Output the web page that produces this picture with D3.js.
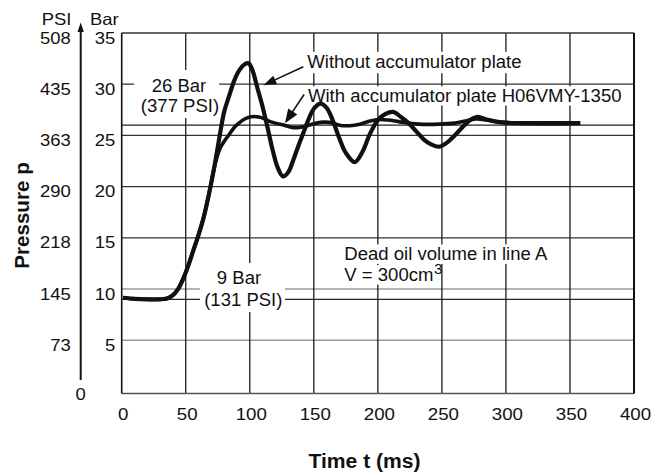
<!DOCTYPE html>
<html><head><meta charset="utf-8">
<script src="https://cdn.jsdelivr.net/npm/d3@7"></script>
<style>body{margin:0;background:#fff}</style>
</head><body>
<svg id="c" width="662" height="475"></svg>
<script>
// ---- data ----
const timeTicks = [0, 50, 100, 150, 200, 250, 300, 350, 400];
const barTicks = [5, 10, 15, 20, 25, 30, 35];
const psiTickLabels = ["73", "145", "218", "290", "363", "435", "508"];
const psiZeroLabel = "0";
const refBars = [9, 26];

const tWithout = [1,10,20,30,36,40,44,48,52,56,60,64,68,72,76,80,84,88,92,96,99,102,106,110,114,118,122,126,130,134,138,142,146,150,155,160,165,170,175,182,188,194,200,206,212,218,224,230,236,242,248,254,260,266,272,277,285,295,310,330,358];
const pWithout = [9.15,9.05,9.0,9.0,9.1,9.4,10.0,11.0,12.3,13.8,15.3,17.0,19.2,21.7,24.6,27.3,28.9,30.4,31.4,31.95,32.05,31.4,29.6,27.8,25.7,23.5,21.8,21.0,21.4,22.6,24.0,25.3,26.6,27.6,28.1,27.7,26.4,24.7,23.3,22.4,23.4,25.2,26.5,27.1,27.3,26.8,26.2,25.4,24.6,24.1,23.9,24.3,25.0,25.8,26.5,26.8,26.55,26.3,26.2,26.2,26.2];

const tWith = [1,10,20,30,36,40,44,48,52,56,60,64,68,72,74,77,81,84,88,92,96,100,103,107,111,114,120,127,134,140,146,152,158,164,170,178,186,194,201,208,216,224,232,248,260,270,277,285,295,310,330,358];
const pWith = [9.15,9.05,9.0,9.0,9.1,9.4,10.0,11.0,12.3,13.8,15.3,17.0,19.2,21.7,22.7,23.8,24.6,25.1,25.8,26.25,26.6,26.8,26.85,26.8,26.65,26.45,26.2,26.0,25.75,25.8,26.0,26.2,26.3,26.25,26.0,25.95,26.1,26.4,26.55,26.5,26.35,26.2,26.1,26.1,26.2,26.45,26.6,26.5,26.3,26.2,26.15,26.2];

// ---- layout ----
const FONT = '"Liberation Sans", Arial, Helvetica, sans-serif';
const svg = d3.select("#c");
const x = d3.scaleLinear().domain([0, 400]).range([121.7, 634]);
const y = d3.scaleLinear().domain([0, 35]).range([391.5, 33]);
const yBottom = y(0) + 2;

const gGrid = svg.append("g");
const gMask = svg.append("g");
const gCurves = svg.append("g");
const gArrows = svg.append("g");
const gText = svg.append("g");

function label(g, px, py, str, o = {}) {
  const size = o.size || 17.5, sx = o.sx || 1.06, rot = o.rotate || 0;
  const t = g.append("text")
    .attr("transform", `translate(${px},${py}) rotate(${rot}) scale(${sx},1)`)
    .attr("font-family", FONT)
    .attr("font-size", size)
    .attr("font-weight", o.weight || "normal")
    .attr("text-anchor", o.anchor || "start")
    .attr("fill", "#111")
    .text(str);
  return t;
}
function maskFor(t, px, py, sx, pad) {
  const b = t.node().getBBox();
  gMask.append("rect")
    .attr("x", px + b.x * sx - pad).attr("y", py + b.y - pad)
    .attr("width", b.width * sx + 2 * pad).attr("height", b.height + 2 * pad)
    .attr("fill", "#fff");
}

// ---- grid ----
// horizontal grid lines
barTicks.filter(v => v < 35).forEach(v => {
  gGrid.append("line")
    .attr("x1", x(0)).attr("x2", x(400)).attr("y1", y(v)).attr("y2", y(v))
    .attr("stroke", v <= 10 ? "#9a9a9a" : "#333").attr("stroke-width", v <= 10 ? 1.4 : 1.2);
});
refBars.forEach(v => {
  gGrid.append("line")
    .attr("x1", x(0)).attr("x2", x(400)).attr("y1", y(v)).attr("y2", y(v))
    .attr("stroke", "#222").attr("stroke-width", 1.2);
});
// vertical grid lines
timeTicks.filter(v => v > 0 && v < 400).forEach(v => {
  gGrid.append("line")
    .attr("x1", x(v)).attr("x2", x(v)).attr("y1", y(35)).attr("y2", yBottom)
    .attr("stroke", "#1a1a1a").attr("stroke-width", 1.3);
});
// frame
gGrid.append("line").attr("x1", x(0)).attr("x2", x(400)).attr("y1", y(35)).attr("y2", y(35)).attr("stroke", "#333").attr("stroke-width", 1.3);
gGrid.append("line").attr("x1", x(0)).attr("x2", x(400)).attr("y1", yBottom).attr("y2", yBottom).attr("stroke", "#555").attr("stroke-width", 1.6);
gGrid.append("line").attr("x1", x(0)).attr("x2", x(0)).attr("y1", y(35)).attr("y2", yBottom).attr("stroke", "#111").attr("stroke-width", 1.6);
gGrid.append("line").attr("x1", x(400)).attr("x2", x(400)).attr("y1", y(35)).attr("y2", yBottom).attr("stroke", "#111").attr("stroke-width", 2);

// ---- axes (tick labels) ----
const xAxis = d3.axisBottom(x).tickValues(timeTicks).tickSize(0).tickPadding(0);
const gx = svg.append("g").attr("transform", `translate(0,${yBottom})`).call(xAxis);
gx.select(".domain").remove();
gx.selectAll("text")
  .attr("y", 0).attr("dy", null)
  .attr("transform", "translate(1,26.5) scale(1.1,1)")
  .attr("font-family", FONT).attr("font-size", 17).attr("fill", "#111");

const yAxisBar = d3.axisLeft(y).tickValues(barTicks).tickSize(0).tickPadding(0);
const gyb = svg.append("g").attr("transform", `translate(${x(0)},0)`).call(yAxisBar);
gyb.select(".domain").remove();
gyb.selectAll("text")
  .attr("x", 0).attr("dy", null)
  .attr("transform", "translate(-6.5,10) scale(1.12,1)")
  .attr("font-family", FONT).attr("font-size", 16.5).attr("fill", "#111");

const psiAxisX = 80.7;
const yAxisPsi = d3.axisLeft(y).tickValues(barTicks).tickSize(0).tickPadding(0)
  .tickFormat((d, i) => psiTickLabels[i]);
const gyp = svg.append("g").attr("transform", `translate(${psiAxisX},0)`).call(yAxisPsi);
gyp.select(".domain").remove();
gyp.selectAll("text")
  .attr("x", 0).attr("dy", null)
  .attr("transform", "translate(-10,10) scale(1.12,1)")
  .attr("font-family", FONT).attr("font-size", 16.5).attr("fill", "#111");
label(gText, psiAxisX, y(0) + 8.5, psiZeroLabel, {size: 16.5, sx: 1.12, anchor: "middle"});

// PSI axis line with arrow
svg.append("line").attr("x1", psiAxisX).attr("x2", psiAxisX).attr("y1", 30).attr("y2", 380)
  .attr("stroke", "#111").attr("stroke-width", 2);
svg.append("path").attr("d", `M${psiAxisX},22.5 L${psiAxisX - 3.2},32 L${psiAxisX + 3.2},32 Z`).attr("fill", "#111");

// unit headers
label(gText, 71.5, 25, "PSI", {size: 16.5, sx: 1.12, anchor: "end"});
label(gText, 90, 25, "Bar", {size: 16.5, sx: 1.12});

// axis titles
label(gText, 29, 215.5, "Pressure p", {size: 20, sx: 1.03, weight: "bold", anchor: "middle", rotate: -90});
label(gText, 364.5, 468, "Time t (ms)", {size: 20.5, sx: 1.03, weight: "bold", anchor: "middle"});

// ---- value labels with white boxes ----
gMask.append("rect").attr("x", 134).attr("y", 70).attr("width", 85).attr("height", 48).attr("fill", "#fff");
label(gText, 179, 91.7, "26 Bar", {anchor: "middle"});
label(gText, 180, 111.7, "(377 PSI)", {anchor: "middle"});

gMask.append("rect").attr("x", 200).attr("y", 263).attr("width", 85).attr("height", 49).attr("fill", "#fff");
label(gText, 239, 284.3, "9 Bar", {anchor: "middle"});
label(gText, 243.3, 305.7, "(131 PSI)", {anchor: "middle"});

// ---- annotations ----
const tA = label(gText, 307.3, 68.3, "Without accumulator plate");
maskFor(tA, 307.3, 68.3, 1.06, 1);
const tB = label(gText, 308, 101.7, "With accumulator plate H06VMY-1350");
maskFor(tB, 308, 101.7, 1.06, 0);
const tC = label(gText, 344.3, 260, "Dead oil volume in line A");
maskFor(tC, 344.3, 260, 1.06, 0);
const tD = label(gText, 344.3, 280.7, "V = 300cm");
maskFor(tD, 344.3, 280.7, 1.06, 0);
const dB = tD.node().getBBox();
label(gText, 344.3 + (dB.x + dB.width) * 1.06 + 0.5, 274, "3", {size: 14.5});

// ---- curves ----
const line = d3.line().x(d => x(d[0])).y(d => y(d[1])).curve(d3.curveCatmullRom.alpha(0.5));
gCurves.append("path").attr("d", line(tWith.map((t, i) => [t, pWith[i]])))
  .attr("fill", "none").attr("stroke", "#111").attr("stroke-width", 3.6).attr("stroke-linejoin", "round");
gCurves.append("path").attr("d", line(tWithout.map((t, i) => [t, pWithout[i]])))
  .attr("fill", "none").attr("stroke", "#111").attr("stroke-width", 4.2).attr("stroke-linejoin", "round");

// ---- arrows (in data units) ----
const arrows = [
  {from: [141.8, 31.7], to: [110.6, 29.9], len: 13, hw: 4.5},
  {from: [142.4, 29.0], to: [127.5, 26.2], len: 14, hw: 5.5}
];
arrows.forEach(a => {
  const x0 = x(a.from[0]), y0 = y(a.from[1]), x1 = x(a.to[0]), y1 = y(a.to[1]);
  const dx = x1 - x0, dy = y1 - y0, L = Math.hypot(dx, dy), ux = dx / L, uy = dy / L;
  const bx = x1 - ux * a.len, by = y1 - uy * a.len;
  gArrows.append("line").attr("x1", x0).attr("y1", y0).attr("x2", bx + ux * 2).attr("y2", by + uy * 2)
    .attr("stroke", "#111").attr("stroke-width", 1.6);
  gArrows.append("path")
    .attr("d", `M${x1},${y1} L${bx - uy * a.hw},${by + ux * a.hw} L${bx + uy * a.hw},${by - ux * a.hw} Z`)
    .attr("fill", "#111");
});
</script>
</body></html>
